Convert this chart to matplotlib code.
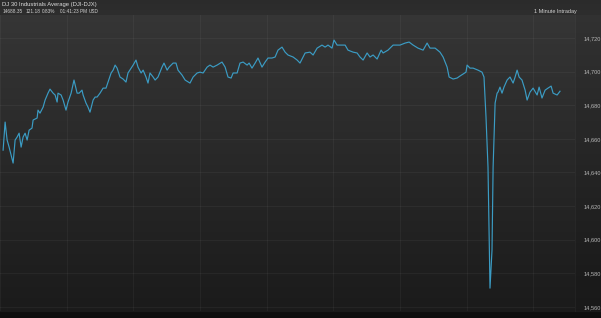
import numpy as np
import matplotlib
matplotlib.use("Agg")
import matplotlib.pyplot as plt

# DJIA, 1 minute intraday, minutes after the 9:30 open
minutes = [
    1.4, 2.3, 3.2, 4.1, 5.9, 6.8, 7.7, 8.6, 9.5, 10.4,
    11.3, 12.2, 13.1, 14.4, 14.9, 16.7, 17.1, 18.0, 19.4, 20.3,
    21.6, 22.5, 23.9, 24.8, 25.7, 26.1, 27.5, 28.4, 29.7, 30.6,
    32.0, 33.3, 34.7, 35.6, 36.9, 37.4, 38.7, 39.6, 40.5, 41.9,
    42.8, 43.7, 45.0, 46.4, 47.7, 48.6, 50.0, 50.9, 51.8, 52.7,
    54.0, 55.4, 56.7, 57.6, 59.0, 59.9, 61.2, 62.1, 63.5, 64.4,
    65.7, 66.6, 67.5, 68.9, 69.8, 71.1, 72.9, 73.8, 75.2, 76.1,
    77.9, 79.2, 80.1, 81.9, 83.3, 85.5, 86.9, 88.7, 90.0, 91.4,
    93.2, 94.5, 95.9, 97.7, 99.9, 101.3, 102.6, 104.0, 104.9, 106.7,
    108.0, 109.4, 111.2, 112.1, 113.4, 114.8, 116.1, 117.9, 119.3, 120.6,
    122.4, 123.8, 125.1, 126.9, 128.3, 129.6, 131.9, 133.7, 135.0, 137.3,
    139.5, 140.9, 142.7, 144.9, 146.3, 147.6, 149.4, 150.3, 151.7, 153.0,
    155.3, 156.6, 158.9, 160.7, 162.0, 163.4, 165.2, 166.5, 167.9, 169.7,
    171.5, 172.4, 174.6, 176.9, 180.0, 182.3, 184.1, 185.9, 188.1, 190.4,
    192.2, 193.5, 195.8, 198.0, 199.4, 201.2, 202.1, 203.9, 205.7, 207.0,
    208.4, 209.7, 210.2, 211.5, 212.9, 215.1, 216.9, 217.8, 218.7, 219.6,
    220.1, 220.5, 221.4, 221.9, 222.8, 223.7, 224.1, 225.0, 225.9, 226.8,
    228.2, 229.5, 230.9, 231.8, 232.7, 233.6, 234.9, 236.3, 237.2, 238.5,
    239.9, 241.7, 242.6, 243.9, 245.3, 246.6, 248.0, 248.9, 250.7, 252.0,
]
prices = [
    14653.3, 14670.0, 14659.3, 14655.1, 14645.6, 14659.3, 14661.1, 14663.4, 14655.1, 14661.1,
    14663.4, 14659.3, 14665.2, 14666.4, 14671.2, 14672.4, 14677.1, 14675.3, 14678.9, 14683.1,
    14687.2, 14689.6, 14687.2, 14686.1, 14681.9, 14687.2, 14686.1, 14683.1, 14677.1, 14681.9,
    14687.2, 14695.0, 14687.2, 14687.2, 14689.0, 14686.1, 14681.3, 14678.9, 14675.9, 14683.1,
    14684.9, 14684.9, 14687.2, 14690.2, 14690.2, 14693.8, 14699.2, 14700.9, 14703.9, 14702.1,
    14696.8, 14695.6, 14693.8, 14699.2, 14702.1, 14703.9, 14706.9, 14702.7, 14699.2, 14700.9,
    14696.8, 14693.2, 14699.2, 14696.8, 14695.0, 14696.8, 14702.7, 14705.1, 14700.9, 14702.7,
    14705.1, 14705.1, 14700.9, 14698.0, 14695.0, 14693.2, 14696.8, 14699.2, 14699.7, 14699.2,
    14702.7, 14703.9, 14702.7, 14703.9, 14705.7, 14702.7, 14696.8, 14696.2, 14699.2, 14699.2,
    14705.1, 14705.7, 14703.9, 14705.1, 14702.1, 14705.1, 14708.1, 14702.7, 14705.7, 14708.1,
    14708.1, 14708.7, 14712.8, 14714.6, 14711.6, 14709.9, 14708.7, 14706.9, 14705.1, 14711.1,
    14711.6, 14709.9, 14714.0, 14715.8, 14714.6, 14715.8, 14714.0, 14718.8, 14715.8, 14715.8,
    14715.8, 14712.8, 14711.6, 14711.1, 14708.7, 14706.9, 14711.1, 14708.7, 14709.9, 14707.5,
    14712.8, 14711.1, 14712.8, 14715.8, 14715.8, 14717.0, 14717.6, 14715.8, 14714.0, 14712.8,
    14717.0, 14714.0, 14714.0, 14711.6, 14708.7, 14702.7, 14696.8, 14695.6, 14696.2, 14697.4,
    14698.6, 14699.7, 14703.9, 14702.1, 14702.1, 14700.9, 14699.7, 14696.8, 14673.0, 14643.2,
    14603.9, 14571.2, 14593.8, 14643.2, 14681.3, 14687.2, 14687.8, 14690.8, 14687.2, 14690.8,
    14695.0, 14696.8, 14693.2, 14696.8, 14700.9, 14696.8, 14695.0, 14689.0, 14683.1, 14687.8,
    14690.2, 14686.1, 14690.8, 14684.3, 14689.0, 14690.2, 14691.4, 14687.2, 14686.1, 14688.35,
]
yticks = [14560, 14580, 14600, 14620, 14640, 14660, 14680, 14700, 14720]
xgrid = [0, 30, 60, 90, 120, 150, 180, 210, 240]

title = "DJ 30 Industrials Average (DJI-DJX)"
quote = ["14688.35", "121.18", "0.83%", "01:41:23 PM", "USD"]
quote_x = [3, 26, 42, 60, 89]

W, H = 601, 318
fig = plt.figure(figsize=(W / 100, H / 100), dpi=100)
fam = ["Liberation Sans", "DejaVu Sans"]

# background gradient over the whole figure
bg = fig.add_axes([0, 0, 1, 1])
bg.set_axis_off()
rows = np.arange(H)
shade = np.interp(rows, [0, 14, 15, 311, 312, 318],
                  [0.17, 0.18, 0.21, 0.105, 0.06, 0.05])
img = np.repeat(shade[:, None], W, axis=1)
rgb = np.dstack([img, img, img])
bg.imshow(rgb, extent=[0, W, H, 0], aspect="auto", interpolation="bilinear")
# right label panel, a touch darker
bg.axvspan(575, W, ymin=(H - 311) / H, ymax=(H - 15) / H, color="black", alpha=0.07, lw=0)
bg.axvline(575, ymin=(H - 311) / H, ymax=(H - 15) / H, color="white", alpha=0.04, lw=0.7)
bg.set_xlim(0, W)
bg.set_ylim(H, 0)

ax = fig.add_axes([0, (H - 311) / H, 575 / W, (311 - 15) / H])
ax.set_facecolor("none")
ax.patch.set_alpha(0)
for s in ax.spines.values():
    s.set_visible(False)

ax.plot(minutes, prices, color="#3b9cc4", lw=0.85, solid_joinstyle="round")

ax.set_xlim(0, 575 * 0.45)
ax.set_ylim(14557.6, 14733.7)
ax.set_xticks(xgrid)
ax.set_xticklabels([])
ax.tick_params(axis="x", length=0)
ax.set_yticks(yticks)
ax.set_yticklabels([f"{v:,}" for v in yticks])
ax.yaxis.tick_right()
ax.tick_params(axis="y", length=0, pad=6, labelsize=4.1, labelcolor="#b8b8b8")
for lab in ax.get_yticklabels():
    lab.set_family(fam)
ax.grid(True, color="white", alpha=0.045, lw=0.8)

fig.text(2 / W, 1 - 4.5 / H, title, color="#dcdcdc", fontsize=4.2,
         family=fam, va="center", ha="left")
for txt, px in zip(quote, quote_x):
    fig.text(px / W, 1 - 11.5 / H, txt, color="#d0d0d0", fontsize=3.4,
             family=fam, va="center", ha="left")
fig.text(577 / W, 1 - 11.5 / H, "1 Minute Intraday", color="#d0d0d0", fontsize=4.0,
         family=fam, va="center", ha="right")

fig.savefig("out.png", dpi=100, facecolor="#2b2b2b")
